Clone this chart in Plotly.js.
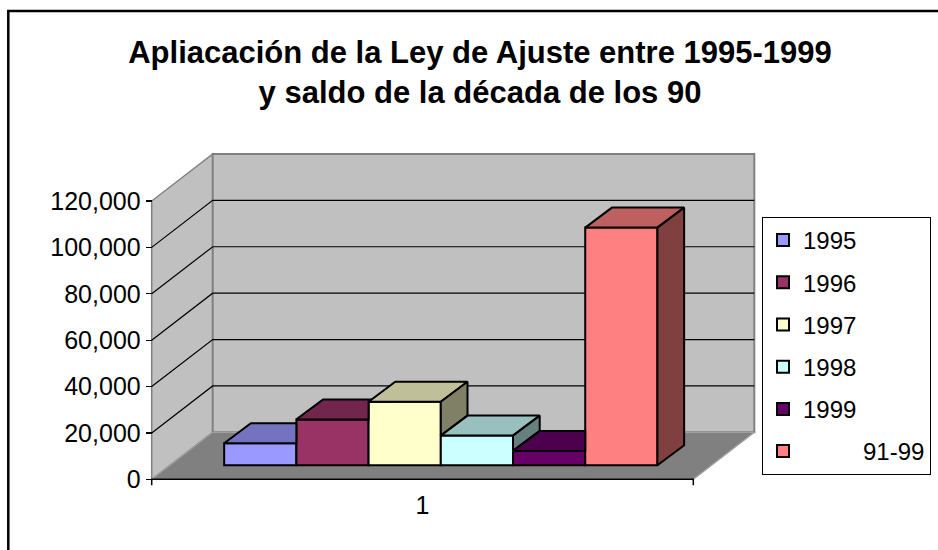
<!DOCTYPE html>
<html><head><meta charset="utf-8">
<script src="https://cdn.plot.ly/plotly-3.0.1.min.js"></script>
<style>html,body{margin:0;padding:0;background:#fff;overflow:hidden}#chart{width:938px;height:550px}</style>
</head><body><div id="chart"></div>
<script>
// ---- data ----
const categories = ['1'];
const seriesNames = ['1995', '1996', '1997', '1998', '1999', '\u00a0\u00a0\u00a0\u00a0\u00a0\u00a0\u00a0\u00a0\u00a091-99'];
const seriesValues = [9500, 19800, 27400, 12800, 6200, 102500];
const yTickValues = [0, 20000, 40000, 60000, 80000, 100000, 120000];
const frontColors = ['#9999FF', '#993366', '#FFFFCC', '#CCFFFF', '#660066', '#FF8080'];

// ---- geometry (pixels of the 938x550 canvas) ----
const W = 938, H = 550;
const FX0 = 151.7, FX1 = 693.3, FY0 = 479.3, FYTOP = 201;
const VMAX = yTickValues[yTickValues.length - 1];
const K = (FY0 - FYTOP) / VMAX;        // px per value unit
const U = FX1 - FX0;                   // px per category unit
const WALL_DX = 61, WALL_DY = 47;      // wall depth offset
const BAR_DX = 18.3, BAR_DY = 14;      // front face of bars behind the front plane
const TOP_DX = 26.7, TOP_DY = 20;      // bar depth
const BARGAP = 0.2;
const FONT = 'Liberation Sans, Arial, sans-serif';

const catPos = categories.map((c, j) => j + 1);
const cx = (FX0 + FX1) / 2;
const xRange = [catPos[0] + (0 - cx) / U, catPos[0] + (W - cx) / U];
const yRange = [-(H - FY0) / K, FY0 / K];
const x2Range = [xRange[0] - BAR_DX / U, xRange[1] - BAR_DX / U];
const y2Range = [yRange[0] - BAR_DY / K, yRange[1] - BAR_DY / K];

const wdx = WALL_DX / U, wdv = WALL_DY / K;
const tdx = TOP_DX / U, tdv = TOP_DY / K;

function shade(hex, f) {
  const n = parseInt(hex.slice(1), 16);
  const r = Math.round(((n >> 16) & 255) * f), g = Math.round(((n >> 8) & 255) * f), b = Math.round((n & 255) * f);
  return 'rgb(' + r + ',' + g + ',' + b + ')';
}
function pathOf(pts, close) {
  return pts.map((p, i) => (i ? 'L' : 'M') + p[0] + ',' + p[1]).join(' ') + (close ? ' Z' : '');
}

// ---- walls, floor, gridlines (front-plane axes x / y) ----
const L = catPos[0] - 0.5, R = catPos[0] + 0.5;
const shapes = [];
shapes.push({type: 'path', xref: 'x', yref: 'y', layer: 'below',
  path: pathOf([[L, 0], [L, VMAX], [L + wdx, VMAX + wdv], [L + wdx, wdv]], true),
  fillcolor: '#C0C0C0', line: {color: '#808080', width: 1.5}});
shapes.push({type: 'path', xref: 'x', yref: 'y', layer: 'below',
  path: pathOf([[L + wdx, wdv], [L + wdx, VMAX + wdv], [R + wdx, VMAX + wdv], [R + wdx, wdv]], true),
  fillcolor: '#C0C0C0', line: {color: '#808080', width: 2}});
shapes.push({type: 'path', xref: 'x', yref: 'y', layer: 'below',
  path: pathOf([[L, 0], [L + wdx, wdv], [R + wdx, wdv], [R, 0]], true),
  fillcolor: '#808080', line: {color: '#A0A0A0', width: 1.2}});
yTickValues.slice(1, -1).forEach(v => {
  shapes.push({type: 'path', xref: 'x', yref: 'y', layer: 'below',
    path: pathOf([[L, v], [L + wdx, v + wdv], [R + wdx, v + wdv]], false),
    line: {color: '#000', width: 1.2}});
});
// category axis line with end ticks
const tk = 6 / K;
shapes.push({type: 'path', xref: 'x', yref: 'y', layer: 'below',
  path: pathOf([[L, -tk], [L, 0], [R, 0], [R, -tk]], false),
  line: {color: '#000', width: 1.5}});
// outer chart border
shapes.push({type: 'rect', xref: 'paper', yref: 'paper', layer: 'above',
  x0: 8.3 / W, x1: 1.05, y0: -0.05, y1: 1 - 11 / H,
  line: {color: '#000', width: 2.5}, fillcolor: 'rgba(0,0,0,0)'});

// ---- bars: front faces (bar traces) + visible top / side faces ----
const n = seriesValues.length;
const bw = (1 - BARGAP) / n;
const traces = [];
seriesValues.forEach((v, i) => {
  traces.push({type: 'bar', x: [catPos[0]], y: [v], name: seriesNames[i],
    xaxis: 'x2', yaxis: 'y2', legendgroup: 'g' + i,
    marker: {color: frontColors[i], line: {color: '#000', width: 2}},
    hoverinfo: 'skip'});
});
seriesValues.forEach((h, i) => {
  const xl = catPos[0] - (1 - BARGAP) / 2 + i * bw, xr = xl + bw;
  const next = i < n - 1 ? seriesValues[i + 1] : 0;
  const t = i < n - 1 ? Math.max(0, Math.min(1, (next - h) / tdv)) : 0;
  let top;
  if (t >= 1) {
    top = [[xl, h], [xr, h], [xr, h + tdv], [xl + tdx, h + tdv], [xl, h]];
  } else if (t > 0) {
    top = [[xl, h], [xr, h], [xr, h + t * tdv], [xr + t * tdx, h + t * tdv], [xr + tdx, h + tdv], [xl + tdx, h + tdv], [xl, h]];
  } else {
    top = [[xl, h], [xr, h], [xr + tdx, h + tdv], [xl + tdx, h + tdv], [xl, h]];
  }
  traces.push({type: 'scatter', mode: 'lines', xaxis: 'x2', yaxis: 'y2', showlegend: false, hoverinfo: 'skip',
    x: top.map(p => p[0]), y: top.map(p => p[1]), fill: 'toself',
    fillcolor: shade(frontColors[i], 0.75), line: {color: '#000', width: 2}});
  if (h > next) {
    const side = [[xr, next], [xr, h], [xr + tdx, h + tdv], [xr + tdx, next + tdv], [xr, next]];
    traces.push({type: 'scatter', mode: 'lines', xaxis: 'x2', yaxis: 'y2', showlegend: false, hoverinfo: 'skip',
      x: side.map(p => p[0]), y: side.map(p => p[1]), fill: 'toself',
      fillcolor: shade(frontColors[i], 0.5), line: {color: '#000', width: 2}});
  }
});

const layout = {
  width: W, height: H, autosize: false,
  margin: {l: 0, r: 0, t: 0, b: 0},
  paper_bgcolor: '#fff', plot_bgcolor: '#fff',
  font: {family: FONT, color: '#000', size: 25},
  title: {text: 'Apliacación de la Ley de Ajuste entre 1995-1999<br>y saldo de la década de los 90',
    font: {family: FONT, size: 31, color: '#000', weight: 'bold'},
    x: 480 / W, xref: 'paper', xanchor: 'center', y: 1 - 63 / H, yref: 'container', yanchor: 'middle'},
  barmode: 'group', bargap: BARGAP, bargroupgap: 0,
  xaxis: {type: 'linear', range: xRange, domain: [0, 1], anchor: 'free', position: 1 - FY0 / H,
    tickvals: catPos, ticktext: categories, ticks: '', ticklabelstandoff: 9,
    showline: false, showgrid: false, zeroline: false,
    tickfont: {family: FONT, size: 25, color: '#000'}, fixedrange: true},
  yaxis: {type: 'linear', range: yRange, domain: [0, 1], anchor: 'free', position: FX0 / W,
    tickvals: yTickValues, tickformat: ',', ticks: 'outside', ticklen: 6, tickwidth: 1.2, tickcolor: '#000',
    showline: false, showgrid: false, zeroline: false,
    tickfont: {family: FONT, size: 25, color: '#000'}, fixedrange: true},
  xaxis2: {type: 'linear', range: x2Range, overlaying: 'x', anchor: 'y2', visible: false, fixedrange: true},
  yaxis2: {type: 'linear', range: y2Range, overlaying: 'y', anchor: 'x2', visible: false, fixedrange: true},
  showlegend: true,
  legend: {x: 762 / W, xanchor: 'left', y: 1 - 217 / H, yanchor: 'top',
    bordercolor: '#000', borderwidth: 1, bgcolor: '#fff',
    font: {family: FONT, size: 24, color: '#000'},
    traceorder: 'grouped', tracegroupgap: 8},
  shapes: shapes
};

Plotly.newPlot('chart', traces, layout, {staticPlot: true, displayModeBar: false});
</script>
</body></html>
